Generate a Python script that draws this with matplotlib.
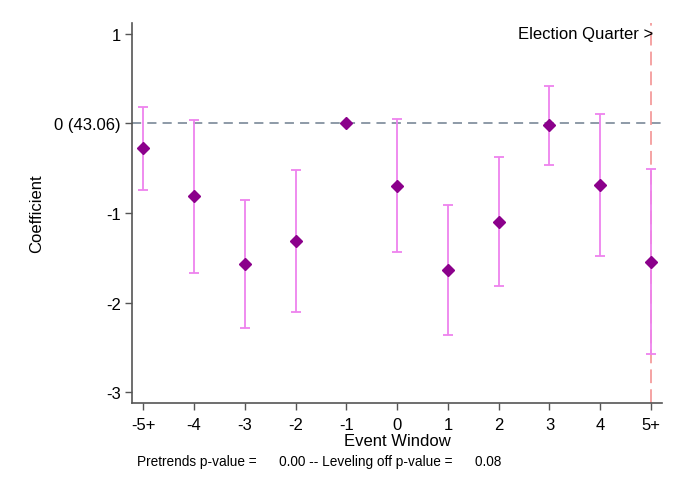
import numpy as np
import matplotlib
matplotlib.use("Agg")
import matplotlib.pyplot as plt

plt.rcParams["font.family"] = ["Liberation Sans", "DejaVu Sans"]

# Event-study estimates
labels = ["-5+", "-4", "-3", "-2", "-1", "0", "1", "2", "3", "4", "5+"]
window = [-5, -4, -3, -2, -1, 0, 1, 2, 3, 4, 5]
coef = [-0.28, -0.815, -1.57, -1.31, 0.0, -0.695, -1.64, -1.095, -0.02, -0.69, -1.545]
ci_low = [-0.745, -1.665, -2.285, -2.10, 0.0, -1.44, -2.36, -1.81, -0.46, -1.48, -2.578]
ci_high = [0.185, 0.035, -0.855, -0.52, 0.0, 0.05, -0.913, -0.376, 0.42, 0.10, -0.51]

y_ticks = [1, 0, -1, -2, -3]
y_tick_labels = ["1", "0 (43.06)", "-1", "-2", "-3"]


def main():
    fig = plt.figure(figsize=(6.75, 4.85), dpi=100)
    ax = fig.add_axes([0.1956, 0.167, 0.7854, 0.7835])

    x = np.array(window)
    c = np.array(coef)
    lo = np.array(ci_low)
    hi = np.array(ci_high)

    # reference lines
    ax.axhline(0, color="#6f7f8f", linestyle=(0, (6, 4)), linewidth=1.1, zorder=1)
    ax.axvline(5, color="#f28a8a", linestyle=(0, (9, 4)), linewidth=1.1, zorder=1)

    # confidence intervals (skip the omitted period)
    keep = lo != hi
    ax.errorbar(x[keep], c[keep], yerr=[c[keep] - lo[keep], hi[keep] - c[keep]],
                fmt="none", ecolor="#ee82ee", elinewidth=1.3, capsize=3.5,
                capthick=1.3, zorder=2)
    ax.plot(x, c, linestyle="none", marker="D", markersize=6,
            color="#8b008b", zorder=3)

    ax.text(5.04, 1.0, "Election Quarter >", ha="right", va="center", fontsize=12)

    ax.set_xlim(-5.22, 5.22)
    ax.set_ylim(-3.12, 1.12)
    ax.set_xticks(window)
    ax.set_xticklabels(labels)
    ax.set_yticks(y_ticks)
    ax.set_yticklabels(y_tick_labels)
    ax.tick_params(labelsize=12, length=5, width=1, color="#555555", pad=3)
    ax.tick_params(axis="x", pad=5)

    for side in ["top", "right"]:
        ax.spines[side].set_visible(False)
    for side in ["left", "bottom"]:
        ax.spines[side].set_color("#555555")
        ax.spines[side].set_linewidth(1.2)

    ax.set_xlabel("Event Window", fontsize=12, labelpad=1)
    ax.set_ylabel("Coefficient", fontsize=12, labelpad=7)

    fig.text(0.203, 0.047,
             "Pretrends p-value =      0.00 -- Leveling off p-value =      0.08",
             fontsize=9.8, ha="left", va="center")

    fig.savefig("out.png", dpi=100)


if __name__ == "__main__":
    main()
